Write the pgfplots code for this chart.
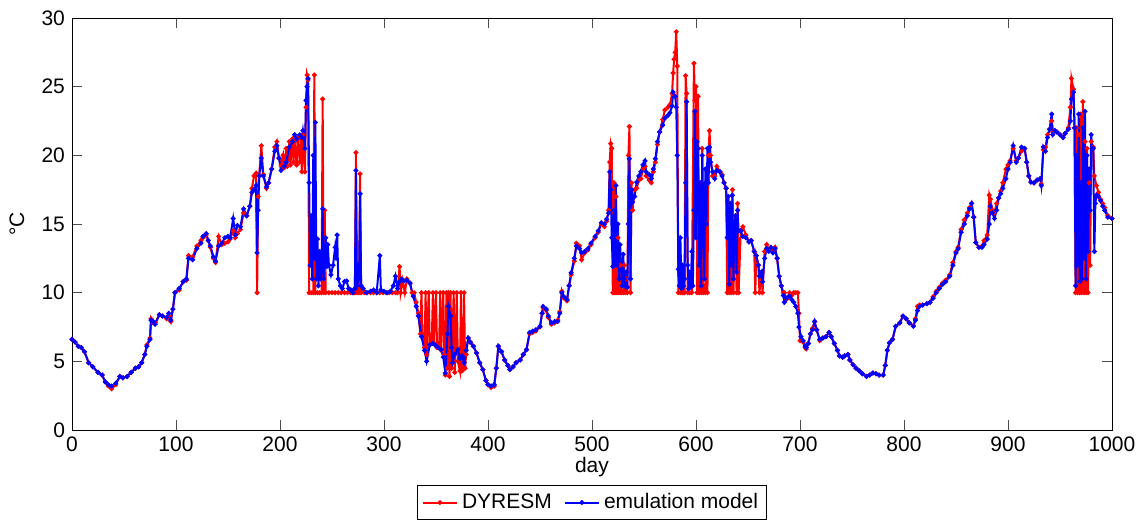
\documentclass[border=0pt]{standalone}
\usepackage{fontspec}
\setmainfont{Liberation Sans}
\usepackage{pgfplots}
\usepackage{pgfplotstable}
\pgfplotsset{compat=1.18}

\pgfplotstableread{
x y
0 6.6
3 6.4
6 6.1
9 6.0
12 5.7
16 4.9
20 4.6
25 4.2
29 4.0
32 3.5
35 3.2
38 3.0
42 3.3
46 3.9
49 3.8
53 3.9
57 4.2
61 4.5
64 4.6
67 4.9
70 5.5
72 6.2
75 6.7
76 8.1
78 7.8
80 7.8
84 8.4
87 8.3
91 8.1
93 8.3
95 7.9
97 8.8
99 10.0
103 10.2
107 10.8
110 10.9
112 12.7
116 12.6
120 13.4
124 13.8
126 14.0
129 14.2
131 13.8
133 13.3
136 12.5
138 12.2
141 14.1
144 13.5
147 13.6
150 13.7
152 13.9
155 14.5
157 14.0
159 14.3
162 14.6
165 15.8
168 15.6
171 16.3
173 17.6
175 18.5
177 18.7
178 10.0
179 17.0
180 18.5
182 20.7
184 18.6
187 17.6
189 18.0
192 19.0
195 20.6
197 21.0
199 19.8
201 19.3
203 20.0
204 19.1
206 20.5
207 19.2
209 21.0
210 19.3
212 21.2
213 19.5
214 21.0
216 19.3
217 21.3
219 19.5
220 21.2
221 18.8
222 21.5
224 18.8
225 23.5
226 25.85
227 25.5
228 10.0
230 10.0
232 10.0
233 25.85
234 10.0
236 10.0
238 10.0
240 10.0
241 24.1
242 10.0
243 16.0
244 10.0
247 10.0
250 10.0
253 10.0
256 10.0
259 10.0
262 10.0
265 10.0
268 10.0
271 10.0
272 10.0
273 20.2
274 10.0
276 10.0
277 18.65
278 10.0
281 10.0
284 10.0
287 10.0
290 10.0
293 10.0
296 10.0
299 10.0
302 10.0
305 10.0
308 10.0
311 10.0
313 10.0
315 11.9
316 10.0
318 10.9
320 10.0
322 11.0
325 10.7
327 10.0
329 10.0
331 9.3
333 8.5
335 7.0
336 10.0
337 7.0
339 6.0
340 10.0
341 5.5
343 10.0
344 6.2
346 6.5
347 10.0
348 6.3
350 10.0
351 6.0
353 6.0
354 10.0
355 5.8
357 10.0
358 5.5
359 4.0
360 10.0
361 4.5
362 10.0
363 3.9
364 10.0
365 4.5
367 10.0
368 4.2
370 10.0
371 5.0
373 4.3
374 10.0
375 4.3
376 4.4
377 10.0
378 4.5
379 5.5
381 6.7
383 6.4
386 6.1
389 5.6
392 4.9
395 4.4
398 3.6
400 3.3
403 3.1
406 3.2
408 4.5
410 6.1
413 5.7
416 5.1
419 4.7
421 4.4
424 4.6
427 4.9
431 5.1
434 5.5
437 5.85
440 7.0
443 7.1
446 7.2
450 7.5
452 8.5
453 8.9
456 8.7
458 8.2
461 7.7
464 7.8
467 8.0
469 8.6
471 10.1
473 9.6
476 9.4
478 10.5
480 11.3
483 12.3
485 13.6
488 13.4
490 12.4
493 12.9
496 13.1
499 13.5
503 14.0
506 14.4
509 15.0
512 14.8
514 15.2
516 16.0
517 19.5
518 20.85
519 20.5
520 10.0
521 18.0
522 10.0
523 17.0
524 10.0
525 14.0
526 10.0
527 12.0
528 10.0
530 10.0
531 12.0
532 10.0
533 11.0
534 10.0
535 20.0
536 22.1
537 10.0
538 18.0
539 16.0
541 17.5
543 17.6
545 18.2
547 18.3
549 19.0
551 19.2
552 18.5
555 18.2
557 18.0
559 18.8
561 19.5
563 20.8
565 21.7
568 22.6
570 23.3
573 23.5
575 23.7
577 24.5
578 26.0
579 27.0
580 27.5
581 29.0
582 26.5
583 10.0
585 10.0
587 10.0
589 10.0
590 25.8
591 24.5
592 10.0
594 10.0
596 10.0
598 26.7
599 24.0
600 25.0
601 10.0
602 24.3
603 10.0
604 18.0
605 10.0
606 20.5
607 10.0
609 10.0
610 15.0
611 10.0
612 20.0
613 21.8
614 20.0
616 18.5
618 18.5
620 19.2
623 18.8
625 18.6
627 18.0
629 17.6
630 10.0
631 17.0
632 10.0
633 16.5
634 10.0
635 17.5
636 10.0
638 15.6
639 10.0
640 16.5
641 10.0
643 14.5
645 14.8
648 14.2
651 13.7
653 13.8
656 13.0
657 10.0
658 12.7
660 12.0
661 10.0
663 11.5
664 10.0
666 13.0
668 13.5
670 13.1
672 13.3
674 13.0
676 13.3
678 12.5
680 11.2
682 10.5
684 10.0
685 10.0
687 9.5
690 10.0
692 9.8
694 10.0
696 10.0
698 10.0
699 8.5
700 6.5
701 6.5
703 6.4
705 6.0
706 5.9
708 6.3
710 7.0
712 7.4
714 7.9
716 7.3
719 6.5
722 6.7
725 6.8
728 7.1
730 6.8
733 6.3
736 5.8
738 5.4
741 5.3
743 5.4
746 5.5
748 5.1
751 4.75
754 4.5
757 4.3
760 4.1
764 3.9
767 4.0
770 4.15
773 4.1
776 4.0
780 4.0
782 4.7
784 5.8
786 6.35
789 6.6
792 7.55
796 7.8
799 8.3
802 8.1
805 7.8
809 7.6
811 8.1
813 9.0
815 9.1
818 9.1
822 9.2
825 9.3
828 9.7
831 10.1
834 10.4
837 10.7
840 10.9
844 11.3
847 12.2
850 13.0
852 13.3
855 14.6
858 15.3
861 15.8
863 16.2
865 16.5
867 15.5
869 13.65
872 13.3
875 13.4
877 13.8
880 14.2
882 17.1
883 16.8
885 16.0
887 15.8
889 16.5
891 16.9
893 17.4
895 18.0
898 19.0
900 19.3
902 19.6
905 20.5
908 19.6
910 19.8
913 20.3
916 20.5
918 19.5
920 18.5
922 18.05
925 18.0
928 18.2
931 18.3
932 17.9
934 20.4
936 20.6
938 21.5
940 21.9
942 22.5
943 21.7
945 21.8
947 21.7
950 21.5
953 21.3
955 21.6
958 22.0
960 23.5
961 25.6
963 24.8
964 22.0
965 10.0
966 22.0
967 10.0
968 21.5
969 10.0
970 23.0
971 10.0
972 23.9
973 10.0
974 21.0
975 10.0
976 20.5
977 10.0
978 18.0
979 12.0
980 21.0
982 20.6
983 18.5
985 17.8
987 17.3
989 16.8
991 16.5
993 16.2
996 15.6
1000 15.4
}\dyresm

\pgfplotstableread{
x y
0 6.6
3 6.4
6 6.1
9 6.0
12 5.7
16 4.9
20 4.6
25 4.2
29 4.0
32 3.5
35 3.3
38 3.2
42 3.4
46 3.9
49 3.8
53 3.9
57 4.2
61 4.5
64 4.6
67 4.9
70 5.5
72 6.1
75 6.6
76 8.0
78 7.9
80 7.7
84 8.4
87 8.3
91 8.2
93 8.5
95 8.0
97 8.8
99 10.0
103 10.3
107 10.8
110 11.0
112 12.5
116 12.4
120 13.2
124 13.6
126 14.1
129 14.3
131 13.8
133 13.4
136 12.6
138 12.3
141 13.4
144 13.6
147 14.0
150 14.1
152 14.0
155 15.4
157 14.2
159 14.9
162 14.8
165 16.1
168 15.6
171 16.3
173 17.3
175 17.5
177 17.8
178 12.9
179 16.0
180 18.5
182 19.8
184 18.5
187 17.7
189 18.0
192 19.0
195 20.3
197 20.7
199 19.8
201 18.9
204 19.2
206 19.5
209 20.6
212 21.0
214 21.5
216 21.2
219 21.5
221 21.3
222 21.8
224 20.5
225 24.0
226 25.0
227 25.6
228 18.0
229 12.0
230 15.6
231 11.0
232 20.0
233 12.5
234 22.4
235 11.0
236 13.9
237 10.5
238 13.0
239 11.0
240 11.5
241 16.1
242 11.0
243 12.5
244 14.0
245 11.9
246 13.5
247 12.0
249 11.3
251 12.0
253 13.3
254 12.5
255 14.2
256 11.0
258 10.5
260 10.3
262 10.8
264 10.85
266 10.3
268 10.2
270 10.0
272 10.3
273 18.9
274 10.5
276 11.0
277 17.2
278 10.5
280 10.3
283 10.0
287 10.1
290 10.2
293 10.0
296 12.7
297 10.2
300 10.1
303 10.0
306 10.1
309 10.5
311 11.2
313 10.3
315 10.8
317 11.0
319 10.85
322 10.9
325 10.7
328 9.75
331 9.0
333 8.3
336 6.8
339 5.8
341 5.0
344 6.2
347 6.3
349 6.2
352 6.0
355 5.85
357 5.3
359 4.15
361 7.0
362 9.0
364 8.3
365 6.0
366 4.9
368 5.5
371 5.85
373 5.2
375 5.4
377 4.9
379 5.8
381 6.7
383 6.4
386 6.1
389 5.6
392 4.9
395 4.4
398 3.6
400 3.3
403 3.2
406 3.3
408 4.5
410 6.1
413 5.7
416 5.1
419 4.7
421 4.4
424 4.6
427 4.9
431 5.1
434 5.5
437 5.85
440 7.1
443 7.2
446 7.3
450 7.55
452 8.5
453 9.0
456 8.8
458 8.3
461 7.8
464 7.9
467 7.9
469 8.5
471 10.0
473 9.7
476 9.5
478 10.5
480 11.45
483 12.5
485 13.4
488 13.2
490 12.9
493 13.0
496 13.2
499 13.6
503 14.1
506 14.5
509 15.1
512 15.0
514 15.35
516 15.8
517 18.8
518 17.5
519 14.0
520 11.9
521 16.0
522 12.0
523 17.8
524 12.0
525 15.0
526 11.0
527 13.5
529 10.5
530 12.8
531 11.0
532 10.5
533 11.5
534 10.4
535 15.0
536 19.75
537 11.0
538 17.5
539 16.6
541 17.0
543 18.05
545 18.5
547 18.8
549 19.3
551 19.6
552 18.8
555 18.6
557 18.3
559 19.0
561 19.75
563 21.0
565 21.7
568 22.2
570 22.7
573 22.9
575 23.1
577 23.6
578 24.6
580 24.3
581 23.5
582 20.0
583 11.7
584 10.5
585 14.0
586 10.3
587 12.0
588 10.5
589 11.0
590 18.0
591 23.9
592 12.0
593 10.3
594 11.5
595 10.4
596 13.0
597 10.5
598 16.0
599 23.2
600 14.0
601 21.0
602 20.5
603 12.0
604 18.0
605 10.5
606 20.0
607 16.0
608 11.0
609 19.0
610 15.0
611 20.5
612 18.0
613 20.6
614 19.5
616 18.8
618 18.3
620 18.9
623 18.8
625 18.5
627 18.0
629 17.6
630 14.0
631 17.0
632 10.6
633 16.5
634 12.0
635 17.1
636 11.0
637 15.0
638 15.6
639 11.5
640 16.0
641 14.5
643 14.5
645 14.1
648 14.0
651 13.7
653 13.8
656 13.0
658 12.7
660 12.0
661 11.2
663 11.5
664 10.8
666 12.5
668 13.2
670 13.0
672 13.3
674 12.9
676 13.2
678 12.5
680 11.2
682 10.5
684 9.8
685 9.3
687 9.6
690 9.75
692 9.5
694 9.3
696 9.0
698 8.5
699 7.5
701 6.8
703 6.5
705 6.1
706 6.0
708 6.3
710 7.0
712 7.3
714 7.9
716 7.3
719 6.6
722 6.7
725 6.8
728 7.1
730 6.8
733 6.3
736 5.8
738 5.4
741 5.3
743 5.4
746 5.5
748 5.1
751 4.75
754 4.5
757 4.3
760 4.1
764 3.9
767 4.0
770 4.15
773 4.1
776 4.0
780 4.0
782 4.7
784 5.8
786 6.35
789 6.6
792 7.55
796 7.8
799 8.3
802 8.1
805 7.8
809 7.55
811 8.0
813 8.7
815 9.0
818 9.1
822 9.2
825 9.3
828 9.6
831 10.0
834 10.3
837 10.6
840 10.8
844 11.2
847 12.0
850 12.9
852 13.2
855 14.4
858 15.0
861 15.6
863 16.1
865 16.5
867 15.5
869 13.65
872 13.3
875 13.3
877 13.5
880 13.9
882 15.0
883 16.3
885 15.8
887 15.4
889 16.0
891 16.9
893 17.2
895 17.6
898 18.3
900 19.0
902 19.5
905 20.7
908 19.5
910 19.8
913 20.6
916 20.5
918 19.5
920 18.5
922 18.05
925 18.0
928 18.2
931 18.3
932 17.8
934 20.6
936 20.3
938 21.3
940 21.9
942 23.0
943 21.5
945 21.8
947 21.7
950 21.5
953 21.3
955 21.6
958 21.9
960 22.5
961 24.1
963 24.6
964 22.0
965 10.5
966 20.0
967 12.0
968 23.0
969 10.8
970 18.0
971 11.0
972 22.0
973 12.5
974 23.2
975 11.0
976 20.0
977 13.0
978 19.0
979 16.0
980 21.5
981 20.5
982 20.5
983 13.0
984 16.5
985 17.1
987 17.0
989 16.7
991 16.3
993 16.0
996 15.5
1000 15.4
}\emul

\begin{document}
\begin{tikzpicture}
\begin{axis}[
  scale only axis,
  width=520pt, height=206pt,
  xmin=0, xmax=1000, ymin=0, ymax=30,
  xtick={0,100,...,1000}, ytick={0,5,...,30},
  tick align=inside,
  major tick length=5pt,
  axis line style={black},
  every tick/.style={black!70, line width=0.4pt},
  /pgf/number format/assume math mode=true,
  /pgf/number format/1000 sep={},
  tick label style={font=\fontsize{10.5}{12}\selectfont},
  label style={font=\fontsize{10.5}{12}\selectfont},
  xlabel={day},
  ylabel={°C},
  xlabel style={at={(axis description cs:0.5,0)}, anchor=center, yshift=-18.5pt},
  ylabel style={at={(axis description cs:-0.053,0.5)}, anchor=center},
  legend columns=2,
  legend style={at={(axis description cs:0.5,0)}, anchor=north, yshift=-27.5pt,
    font=\fontsize{10.5}{12}\selectfont, draw=black, inner sep=2pt,
    /tikz/every even column/.append style={column sep=4pt}},
  legend cell align=left,
]
\addplot[red, line width=1pt, mark=*, mark size=0.65pt] table {\dyresm};
\addlegendentry{DYRESM}
\addplot[blue, line width=1pt, mark=*, mark size=0.65pt] table {\emul};
\addlegendentry{emulation model}
\end{axis}
\pgfresetboundingbox
\path[use as bounding box] (-36pt,-45pt) rectangle (535pt,215pt);
\end{tikzpicture}
\end{document}
